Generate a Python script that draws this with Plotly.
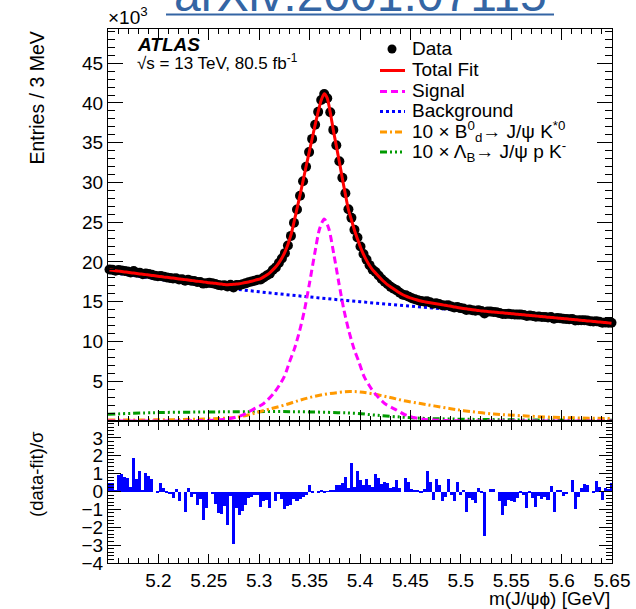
import numpy as np
import plotly.graph_objects as go

# ---- binning: 3 MeV bins starting at 5.15 GeV ----
BIN_LO, BIN_W, N_BINS = 5.15, 0.003, 167
mass = np.round(BIN_LO + BIN_W * (np.arange(N_BINS) + 0.5), 4)

# entries per bin, in units of 10^3
data = [
    19.06, 19.01, 18.91, 18.98, 18.94, 18.86, 18.80, 18.68, 18.86, 18.65,
    18.66, 18.47, 18.55, 18.48, 18.40, 18.26, 18.20, 18.23, 18.14, 18.06,
    18.00, 17.92, 17.94, 17.80, 17.82, 17.63, 17.76, 17.64, 17.61, 17.48,
    17.49, 17.28, 17.32, 17.39, 17.33, 17.22, 17.10, 17.05, 17.07, 16.91,
    17.13, 16.80, 17.11, 17.09, 17.20, 17.31, 17.44, 17.54, 17.65, 17.76,
    17.80, 18.05, 18.30, 18.51, 19.00, 19.32, 19.88, 20.44, 21.11, 22.08,
    23.28, 24.93, 26.61, 28.33, 30.15, 31.97, 33.82, 35.48, 37.25, 38.88,
    40.36, 41.13, 40.60, 38.82, 36.61, 34.67, 32.67, 30.59, 28.64, 26.63,
    25.55, 24.04, 23.07, 21.95, 21.00, 20.30, 19.60, 19.04, 18.73, 18.30,
    17.85, 17.52, 17.19, 16.87, 16.64, 16.43, 16.12, 15.88, 15.80, 15.62,
    15.44, 15.31, 15.20, 15.08, 15.03, 15.07, 14.92, 14.74, 14.82, 14.72,
    14.55, 14.52, 14.56, 14.40, 14.28, 14.35, 14.20, 14.16, 13.97, 14.02,
    13.94, 13.87, 13.92, 13.83, 13.52, 13.77, 13.76, 13.72, 13.67, 13.57,
    13.45, 13.46, 13.48, 13.43, 13.39, 13.38, 13.38, 13.33, 13.20, 13.27,
    13.20, 13.11, 13.14, 13.08, 13.07, 13.01, 13.07, 12.86, 12.95, 12.93,
    12.85, 12.84, 12.81, 12.84, 12.63, 12.67, 12.68, 12.67, 12.63, 12.56,
    12.51, 12.55, 12.48, 12.36, 12.40, 12.35, 12.36,
]

# total fit evaluated at the bin centres (10^3)
fit_total = [
    19.00, 18.95, 18.90, 18.85, 18.80, 18.75, 18.70, 18.65, 18.60, 18.55,
    18.50, 18.46, 18.41, 18.36, 18.31, 18.26, 18.21, 18.16, 18.11, 18.07,
    18.02, 17.97, 17.92, 17.87, 17.82, 17.78, 17.73, 17.68, 17.63, 17.58,
    17.54, 17.49, 17.44, 17.39, 17.35, 17.31, 17.26, 17.22, 17.18, 17.15,
    17.16, 17.19, 17.23, 17.26, 17.34, 17.41, 17.49, 17.58, 17.68, 17.79,
    17.92, 18.12, 18.36, 18.64, 19.00, 19.40, 19.90, 20.50, 21.25, 22.20,
    23.40, 25.00, 26.70, 28.40, 30.20, 32.00, 33.75, 35.50, 37.25, 38.90,
    40.35, 41.15, 40.60, 38.80, 36.60, 34.60, 32.60, 30.50, 28.50, 26.60,
    25.30, 24.00, 22.90, 21.85, 20.95, 20.20, 19.55, 19.00, 18.60, 18.20,
    17.80, 17.45, 17.12, 16.85, 16.60, 16.35, 16.10, 15.88, 15.70, 15.55,
    15.42, 15.30, 15.19, 15.09, 15.01, 14.93, 14.86, 14.80, 14.74, 14.68,
    14.62, 14.55, 14.48, 14.42, 14.35, 14.28, 14.22, 14.16, 14.11, 14.06,
    14.00, 13.95, 13.90, 13.84, 13.81, 13.77, 13.74, 13.70, 13.67, 13.63,
    13.60, 13.56, 13.53, 13.49, 13.46, 13.42, 13.39, 13.35, 13.31, 13.28,
    13.24, 13.21, 13.17, 13.13, 13.10, 13.06, 13.03, 12.99, 12.95, 12.92,
    12.88, 12.85, 12.81, 12.77, 12.74, 12.70, 12.66, 12.63, 12.59, 12.56,
    12.52, 12.48, 12.45, 12.41, 12.38, 12.34, 12.30,
]

# (data - fit) / sigma per bin
pull = [
    0.46, 0.46, 0.05, 0.95, 1.0, 0.8, 0.75, 0.25, 1.9, 0.7,
    1.15, 0.1, 1.05, 0.85, 0.7, 0.0, -0.1, 0.5, 0.2, -0.1,
    -0.13, -0.37, 0.13, -0.55, 0.0, -1.15, 0.22, -0.28, -0.13, -0.78,
    -0.39, -1.6, -0.93, 0.0, -0.13, -0.69, -1.2, -1.26, -0.83, -1.85,
    -0.24, -2.96, -0.93, -1.3, -1.07, -0.74, -0.37, -0.28, -0.2, -0.22,
    -0.87, -0.55, -0.46, -0.93, 0.0, -0.55, -0.13, -0.43, -0.98, -0.8,
    -0.78, -0.43, -0.55, -0.43, -0.31, -0.18, 0.39, -0.1, 0.0, -0.1,
    0.05, -0.1, -0.02, 0.1, 0.05, 0.35, 0.37, 0.5, 0.83, 0.18,
    1.6, 0.28, 1.15, 0.65, 0.37, 0.7, 0.37, 0.28, 0.96, 0.74,
    0.4, 0.56, 0.5, 0.18, 0.28, 0.65, 0.18, 0.0, 0.78, 0.56,
    0.15, 0.1, 0.05, -0.06, 0.15, 1.15, 0.52, -0.46, 0.69, 0.37,
    -0.55, -0.28, 0.69, -0.18, -0.55, 0.56, -0.18, 0.04, -1.17, -0.37,
    -0.5, -0.65, 0.18, -0.1, -2.5, 0.0, 0.13, 0.15, 0.0, -0.55,
    -1.3, -0.83, -0.46, -0.55, -0.61, -0.37, -0.1, -0.18, -0.93, -0.05,
    -0.37, -0.87, -0.24, -0.4, -0.28, -0.46, 0.33, -1.15, 0.04, 0.06,
    -0.24, -0.13, 0.0, 0.65, -0.98, -0.31, 0.18, 0.4, 0.37, 0.0,
    -0.06, 0.61, 0.28, -0.46, 0.18, 0.13, 0.5,
]

# fit components (10^3), sampled along the mass axis
bkg_m = [5.15, 5.20, 5.25, 5.30, 5.35, 5.40, 5.45, 5.50, 5.55, 5.60, 5.65]
bkg_y = [18.75, 17.85, 17.0, 16.25, 15.6, 15.0, 14.45, 13.9, 13.35, 12.8, 12.2]

sig_m = [5.15, 5.2445, 5.2645, 5.2745, 5.2845, 5.2945, 5.3045, 5.3145, 5.32,
         5.325, 5.33, 5.335, 5.34, 5.345, 5.35, 5.355, 5.36, 5.3645, 5.369,
         5.374, 5.379, 5.384, 5.389, 5.394, 5.399, 5.404, 5.409, 5.4145,
         5.4245, 5.4345, 5.4445, 5.4545, 5.4645, 5.4845, 5.65]
sig_y = [0.0, 0.05, 0.2, 0.4, 0.8, 1.5, 2.2, 3.5, 4.5,
         5.6, 7.4, 9.1, 11.3, 14.0, 17.4, 21.0, 24.2, 25.4, 24.2,
         21.0, 17.4, 14.0, 11.3, 9.1, 7.4, 5.6, 4.5, 3.5,
         2.2, 1.5, 0.8, 0.4, 0.2, 0.05, 0.0]

# 10 x B_d -> J/psi K*0 reflection
bd_m = [5.15, 5.20, 5.246, 5.265, 5.279, 5.29, 5.2987, 5.31, 5.325, 5.34,
        5.3515, 5.365, 5.378, 5.39, 5.40, 5.414, 5.43, 5.4438, 5.46, 5.4734,
        5.49, 5.503, 5.5328, 5.559, 5.592, 5.62, 5.65]
bd_y = [0.12, 0.15, 0.25, 0.35, 0.5, 0.8, 1.1, 1.5, 2.0, 2.6,
        3.0, 3.35, 3.58, 3.7, 3.65, 3.38, 2.95, 2.55, 2.2, 1.9,
        1.55, 1.3, 0.88, 0.67, 0.46, 0.38, 0.3]

# 10 x Lambda_B -> J/psi p K- reflection
lb_m = [5.15, 5.196, 5.246, 5.285, 5.335, 5.378, 5.397, 5.414, 5.434, 5.46,
        5.49, 5.55, 5.65]
lb_y = [0.84, 1.05, 1.13, 1.17, 1.17, 1.05, 0.96, 0.75, 0.55, 0.35,
        0.25, 0.15, 0.08]

x_ticks = [5.2, 5.25, 5.3, 5.35, 5.4, 5.45, 5.5, 5.55, 5.6, 5.65]
x_ticktext = ["5.2", "5.25", "5.3", "5.35", "5.4", "5.45", "5.5", "5.55", "5.6", "5.65"]
y_ticks = [5, 10, 15, 20, 25, 30, 35, 40, 45]
pull_ticks = [-4, -3, -2, -1, 0, 1, 2, 3]

# ---- page geometry ----
W, H = 636, 609
L, R, T, B = 108, 24, 29, 46
PW, PH = W - L - R, H - T - B
SPLIT = (H - B - 421) / PH
FONT = "Liberation Sans, Arial, sans-serif"


def xp(p):
    return (p - L) / PW


def yp(p):
    return (H - B - p) / PH


RED = "#ff0000"
MAGENTA = "#ff00ff"
BLUE = "#0000ff"
ORANGE = "#ff9900"
GREEN = "#009a00"
DASH_SIG = "7px,4px"
DASH_BKG = "3px,3px"
DASH_BD = "7px,3px,2px,3px"
DASH_LB = "7px,3px,2px,3px,2px,3px,2px,3px"

fig = go.Figure()

fig.add_trace(go.Scatter(x=bkg_m, y=bkg_y, mode="lines", line=dict(color=BLUE, width=3, dash=DASH_BKG, shape="spline"), xaxis="x", yaxis="y"))
fig.add_trace(go.Scatter(x=lb_m, y=lb_y, mode="lines", line=dict(color=GREEN, width=3, dash=DASH_LB, shape="spline"), xaxis="x", yaxis="y"))
fig.add_trace(go.Scatter(x=bd_m, y=bd_y, mode="lines", line=dict(color=ORANGE, width=3, dash=DASH_BD, shape="spline"), xaxis="x", yaxis="y"))
fig.add_trace(go.Scatter(x=sig_m, y=sig_y, mode="lines", line=dict(color=MAGENTA, width=3, dash=DASH_SIG, shape="spline", smoothing=0.8), xaxis="x", yaxis="y"))
fig.add_trace(go.Scatter(x=mass, y=data, mode="markers", marker=dict(color="black", size=10, line=dict(width=0)), cliponaxis=False, xaxis="x", yaxis="y"))
fig.add_trace(go.Scatter(x=mass, y=fit_total, mode="lines", line=dict(color=RED, width=3, shape="spline", smoothing=0.6), xaxis="x", yaxis="y"))

fig.add_trace(go.Bar(x=mass, y=pull, width=BIN_W, marker=dict(color=BLUE, line=dict(width=0)), xaxis="x2", yaxis="y2"))

axis_common = dict(showline=True, linecolor="black", linewidth=1, mirror="ticks",
                   ticks="inside", tickcolor="black", tickwidth=1,
                   showgrid=False, zeroline=False, automargin=False)

fig.update_layout(
    template="none",
    width=W, height=H,
    margin=dict(l=L, r=R, t=T, b=B, autoexpand=False),
    plot_bgcolor="white", paper_bgcolor="white",
    showlegend=False, bargap=0,
    font=dict(family=FONT, size=19, color="black"),
    xaxis=dict(domain=[0, 1], anchor="y", range=[5.15, 5.65], showticklabels=False,
               tick0=5.15, dtick=0.05, ticklen=11,
               minor=dict(tick0=5.15, dtick=0.01, ticklen=5, ticks="inside", tickcolor="black"),
               **axis_common),
    yaxis=dict(domain=[SPLIT, 1], anchor="x", range=[0, 49.3],
               tickmode="array", tickvals=y_ticks, ticklen=15,
               minor=dict(tick0=0, dtick=1, ticklen=7, ticks="inside", tickcolor="black"),
               tickfont=dict(size=19), **axis_common),
    xaxis2=dict(domain=[0, 1], anchor="y2", range=[5.15, 5.65],
                tickmode="array", tickvals=x_ticks, ticktext=x_ticktext, ticklen=9,
                minor=dict(tick0=5.15, dtick=0.01, ticklen=5, ticks="inside", tickcolor="black"),
                tickfont=dict(size=19), **axis_common),
    yaxis2=dict(domain=[0, SPLIT], anchor="x2", range=[-4, 3.95],
                tickmode="array", tickvals=pull_ticks, ticklen=13,
                minor=dict(tick0=0, dtick=0.2, ticklen=6, ticks="inside", tickcolor="black"),
                tickfont=dict(size=19), **axis_common),
)

annotations = [
    dict(text="m(J/ψϕ) [GeV]", x=xp(612), y=yp(598), xanchor="right", yanchor="middle", font=dict(size=19)),
    dict(text="Entries / 3 MeV", x=xp(36), y=yp(30), xanchor="center", yanchor="top", textangle=-90, font=dict(size=19.5)),
    dict(text="(data-fit)/σ", x=xp(36), y=yp(429), xanchor="center", yanchor="top", textangle=-90, font=dict(size=18.5)),
    dict(text="×10<sup>3</sup>", x=xp(106), y=yp(16), xanchor="left", yanchor="middle", font=dict(size=19)),
    dict(text="<b><i>ATLAS</i></b>", x=xp(135), y=yp(45), xanchor="left", yanchor="middle", font=dict(size=19)),
    dict(text="√s = 13 TeV, 80.5 fb<sup>-1</sup>", x=xp(135), y=yp(62), xanchor="left", yanchor="middle", font=dict(size=17)),
    dict(text="arXiv:2001.07115", x=xp(360), y=yp(23), xanchor="center", yanchor="bottom", font=dict(size=48, color="#3465a4")),
]

# legend block
legend_names = ["Data", "Total Fit", "Signal", "Background",
                "10 × B<sup>0</sup><sub>d</sub>→ J/ψ K<sup>*0</sup>",
                "10 × Λ<sub>B</sub>→ J/ψ p K<sup>-</sup>"]
legend_rows = [49, 69.5, 90.5, 110.5, 131, 151]
legend_colors = ["black", RED, MAGENTA, BLUE, ORANGE, GREEN]
legend_dash = [None, "solid", DASH_SIG, DASH_BKG, DASH_BD, DASH_LB]

shapes = [dict(type="line", xref="paper", yref="paper", x0=xp(166), x1=xp(554), y0=yp(14.5), y1=yp(14.5),
               line=dict(color="#3465a4", width=2))]
for name, row, col, dash in zip(legend_names, legend_rows, legend_colors, legend_dash):
    annotations.append(dict(text=name, x=xp(410), y=yp(row), xanchor="left", yanchor="middle", font=dict(size=19)))
    if dash is None:
        shapes.append(dict(type="circle", xref="paper", yref="paper", x0=xp(387.5), x1=xp(396.5),
                           y0=yp(row + 4.5), y1=yp(row - 4.5), fillcolor="black", line=dict(color="black", width=0)))
    else:
        shapes.append(dict(type="line", xref="paper", yref="paper", x0=xp(380), x1=xp(405),
                           y0=yp(row + 1), y1=yp(row + 1), line=dict(color=col, width=3, dash=dash)))

for a in annotations:
    a.update(xref="paper", yref="paper", showarrow=False)
fig.update_layout(annotations=annotations, shapes=shapes)

fig.write_html("out.html")
